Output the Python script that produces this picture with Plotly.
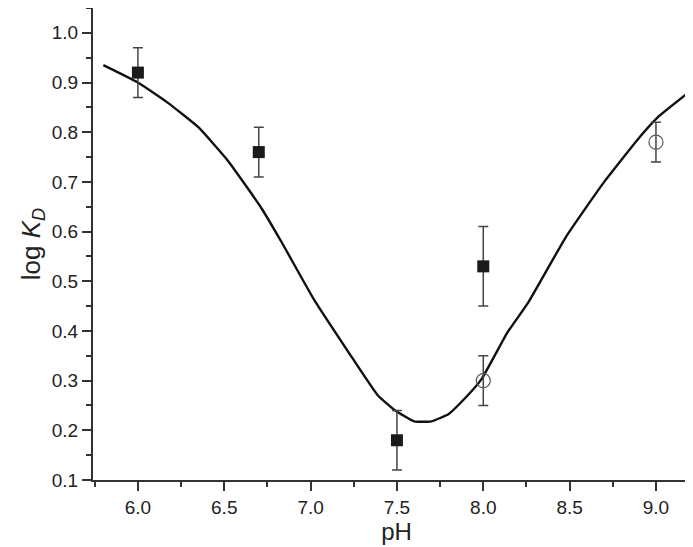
import plotly.graph_objects as go

# Filled squares (measured series)
sq_ph = [6.0, 6.7, 7.5, 8.0]
sq_logkd = [0.92, 0.76, 0.18, 0.53]
sq_err_plus = [0.05, 0.05, 0.06, 0.08]
sq_err_minus = [0.05, 0.05, 0.06, 0.08]

# Open circles
ci_ph = [8.0, 9.0]
ci_logkd = [0.30, 0.78]
ci_err_plus = [0.05, 0.04]
ci_err_minus = [0.05, 0.04]

# Fitted curve
fit_ph = [5.80, 6.00, 6.17, 6.35, 6.52, 6.71, 6.83, 7.02, 7.22, 7.39, 7.49,
          7.60, 7.70, 7.80, 7.89, 7.99, 8.14, 8.26, 8.48, 8.70, 8.905, 9.01, 9.20]
fit_logkd = [0.935, 0.90, 0.86, 0.81, 0.743, 0.65, 0.58, 0.463, 0.357, 0.27, 0.24,
             0.218, 0.218, 0.233, 0.263, 0.303, 0.397, 0.457, 0.59, 0.70, 0.79, 0.83, 0.883]

FONT = "Liberation Sans, Arial, sans-serif"

fig = go.Figure()
fig.add_trace(go.Scatter(x=fit_ph, y=fit_logkd, mode="lines",
                         line=dict(color="#111111", width=2.4, shape="spline", smoothing=0.4),
                         showlegend=False))
fig.add_trace(go.Scatter(
    x=sq_ph, y=sq_logkd, mode="markers",
    marker=dict(symbol="square", size=12, color="#1a1a1a"),
    error_y=dict(type="data", array=sq_err_plus, arrayminus=sq_err_minus,
                 color="#444444", thickness=1.5, width=5),
    showlegend=False))
fig.add_trace(go.Scatter(
    x=ci_ph, y=ci_logkd, mode="markers",
    marker=dict(symbol="circle-open", size=14, color="#555555", line=dict(width=1.2)),
    error_y=dict(type="data", array=ci_err_plus, arrayminus=ci_err_minus,
                 color="#444444", thickness=1.5, width=5),
    showlegend=False))

axis_common = dict(showgrid=False, zeroline=False, showline=True, linecolor="#333333",
                   linewidth=2, ticks="outside", ticklen=9, tickwidth=1.5, tickcolor="#333333",
                   tickfont=dict(family=FONT, size=19, color="#222222"))

fig.update_xaxes(range=[5.74, 9.255], tickmode="array",
                 tickvals=[6.0, 6.5, 7.0, 7.5, 8.0, 8.5, 9.0],
                 ticktext=["6.0", "6.5", "7.0", "7.5", "8.0", "8.5", "9.0"],
                 minor=dict(ticks="outside", ticklen=5, tickwidth=1.5, tickcolor="#333333",
                            tickvals=[5.75, 6.25, 6.75, 7.25, 7.75, 8.25, 8.75, 9.25]),
                 title_text="pH", title_standoff=0,
                 title_font=dict(family=FONT, size=24, color="#222222"), **axis_common)
fig.update_yaxes(range=[0.1, 1.05], tickmode="array",
                 tickvals=[0.1, 0.2, 0.3, 0.4, 0.5, 0.6, 0.7, 0.8, 0.9, 1.0],
                 ticktext=["0.1", "0.2", "0.3", "0.4", "0.5", "0.6", "0.7", "0.8", "0.9", "1.0"],
                 minor=dict(ticks="outside", ticklen=5, tickwidth=1.5, tickcolor="#333333",
                            tickvals=[0.15, 0.25, 0.35, 0.45, 0.55, 0.65, 0.75, 0.85, 0.95, 1.05]),
                 title_text="log <i>K</i><sub><i>D</i></sub>", title_standoff=4,
                 title_font=dict(family=FONT, size=26, color="#222222"), **axis_common)

fig.update_layout(width=693, height=547, margin=dict(l=85, r=1, t=0, b=75),
                  plot_bgcolor="white", paper_bgcolor="white",
                  font=dict(family=FONT))
fig.write_html("out.html")
